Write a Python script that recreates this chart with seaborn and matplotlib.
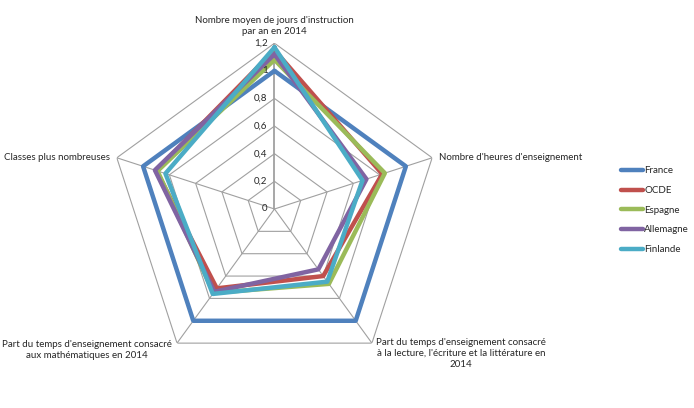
import numpy as np
import pandas as pd
import seaborn as sns
import matplotlib.pyplot as plt
from math import pi

# axes of the radar, clockwise from the top
categories = ["Nombre moyen de jours d'instruction\npar an en 2014",
              "Nombre d'heures d'enseignement",
              "Part du temps d'enseignement consacré\nà la lecture, l'écriture et la littérature en\n2014",
              "Part du temps d'enseignement consacré\naux mathématiques en 2014",
              "Classes plus nombreuses"]
countries = ['France', 'OCDE', 'Espagne', 'Allemagne', 'Finlande']
france = [1.00, 1.00, 1.00, 1.00, 1.00]
ocde = [1.15, 0.82, 0.60, 0.71, 0.90]
espagne = [1.08, 0.84, 0.67, 0.75, 0.89]
allemagne = [1.12, 0.70, 0.54, 0.74, 0.91]
finlande = [1.17, 0.67, 0.65, 0.76, 0.83]
r_ticks = [0, 0.2, 0.4, 0.6, 0.8, 1.0, 1.2]
r_labels = ['0', '0,2', '0,4', '0,6', '0,8', '1', '1,2']
colors = ['#4F81BD', '#C0504D', '#9BBB59', '#8064A2', '#4BACC6']

sns.set_style('white')
plt.rcParams['font.family'] = ['Lato', 'DejaVu Sans']

N = len(categories)
angles = [n / float(N) * 2 * pi for n in range(N)]
closed = angles + [2 * pi]

rows = []
for name, vals in zip(countries, [france, ocde, espagne, allemagne, finlande]):
    for a, v in zip(closed, vals + vals[:1]):
        rows.append({'pays': name, 'angle': a, 'valeur': v})
df = pd.DataFrame(rows)

fig = plt.figure(figsize=(6.94, 4.08), dpi=100)
ax = fig.add_axes([0.1566, 0.0814, 0.4778, 0.8127], polar=True)
ax.set_theta_offset(pi / 2)
ax.set_theta_direction(-1)
ax.set_ylim(0, 1.2)
ax.grid(False)
ax.spines['polar'].set_visible(False)
ax.set_xticks([])
ax.set_yticks([])

# pentagon grid and spokes
for r in r_ticks[1:]:
    ax.plot(closed, [r] * (N + 1), color='#a0a0a0', lw=0.8, zorder=1)
for i, a in enumerate(angles):
    ax.plot([a, a], [0, 1.2], color='#a0a0a0', lw=1.3 if i == 0 else 0.8, zorder=1)

sns.lineplot(data=df, x='angle', y='valeur', hue='pays', hue_order=countries,
             palette=colors, sort=False, estimator=None, lw=3.2, ax=ax, zorder=3)
ax.set_xlabel('')
ax.set_ylabel('')

for r, lab in zip(r_ticks, r_labels):
    ax.annotate(lab, (0, r), xytext=(-5, 0), textcoords='offset points',
                ha='right', va='center', fontsize=7, zorder=5)

# category labels
ax.annotate(categories[0], (0, 1.2), xytext=(0, 5), textcoords='offset points',
            ha='center', va='bottom', fontsize=7, multialignment='center', linespacing=1.3)
ax.annotate(categories[1], (angles[1], 1.2), xytext=(5, 0), textcoords='offset points',
            ha='left', va='center', fontsize=7)
ax.annotate(categories[2], (angles[2], 1.2), xytext=(3, 4), textcoords='offset points',
            ha='left', va='top', fontsize=7, multialignment='center', linespacing=1.3)
ax.annotate(categories[3], (angles[3], 1.2), xytext=(-4, 2), textcoords='offset points',
            ha='right', va='top', fontsize=7, multialignment='center', linespacing=1.3)
ax.annotate(categories[4], (angles[4], 1.2), xytext=(-5, 0), textcoords='offset points',
            ha='right', va='center', fontsize=7)

handles, labels = ax.get_legend_handles_labels()
ax.legend_.remove()
leg = fig.legend(handles, labels, loc='center left', bbox_to_anchor=(0.889, 0.485),
                 frameon=False, fontsize=7, handlelength=2.3, handletextpad=0.1,
                 labelspacing=1.1, borderaxespad=0)

fig.savefig('out.png', dpi=100)
